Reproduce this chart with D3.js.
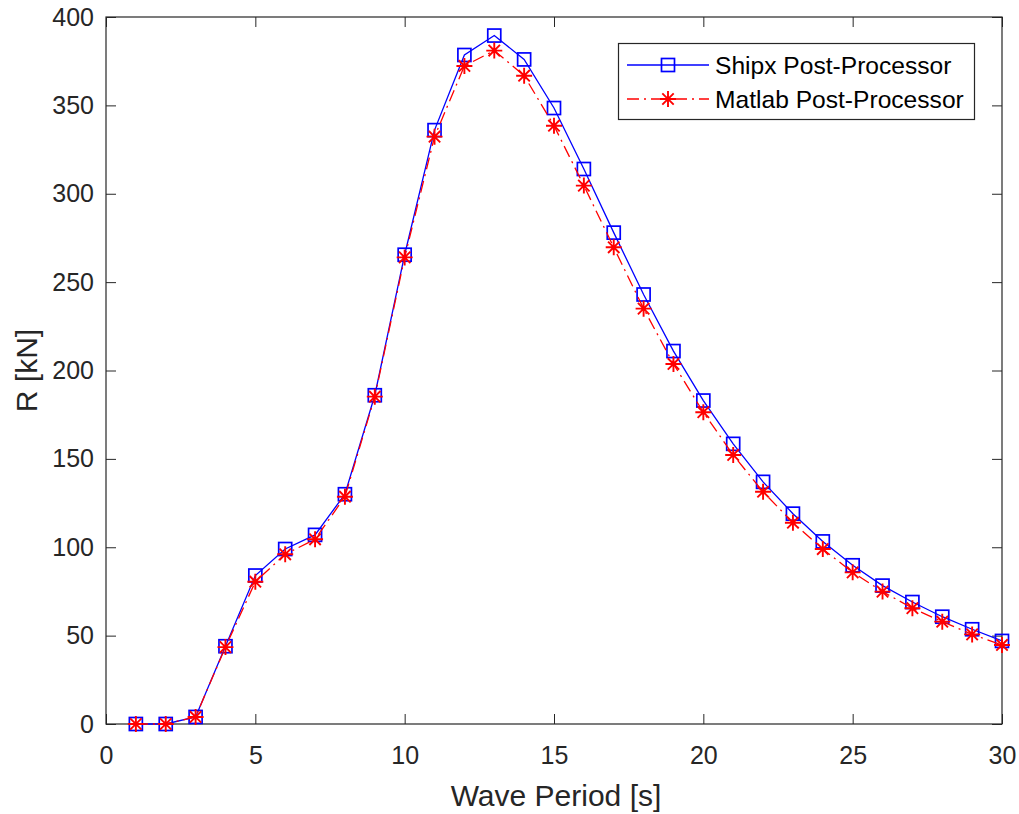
<!DOCTYPE html>
<html><head><meta charset="utf-8">
<script src="https://cdn.jsdelivr.net/npm/d3@7"></script>
<style>body{margin:0;background:#fff}svg{display:block;font-family:"Liberation Sans",Arial,sans-serif}</style>
</head><body><svg id="c" width="1019" height="814"></svg>
<script>
const periods = [1,2,3,4,5,6,7,8,9,10,11,12,13,14,15,16,17,18,19,20,21,22,23,24,25,26,27,28,29,30];
const shipx = [0,0,4,44,84,99,107,130,186,265.5,336,378.5,389.5,376,348.5,314,278,243,211,183,158.5,137,119,103.3,89.8,78.3,69,60.7,53.6,47];
const matlab = [0,0,4,43.5,80.5,96,104.5,128.6,185.2,264,332.3,372.3,381,366.8,338.5,304.6,269.7,235,203.7,176.4,152.2,131.4,113.9,99,85.8,74.9,65.5,57.9,50.7,44.7];
const xTicks = [0,5,10,15,20,25,30];
const yTicks = [0,50,100,150,200,250,300,350,400];
const seriesNames = ["Shipx Post-Processor","Matlab Post-Processor"];

const svg = d3.select("#c");
const L=106, R=1002, T=17, B=724;
const x = d3.scaleLinear().domain([0,30]).range([L,R]);
const y = d3.scaleLinear().domain([0,400]).range([B,T]);
const axisCol = "#262626";
const tickLen = 10;

// axes
const gx = svg.append("g").attr("transform",`translate(0,${B})`)
  .call(d3.axisBottom(x).tickValues(xTicks).tickSize(-tickLen).tickPadding(22).tickFormat(d3.format("d")));
const gy = svg.append("g").attr("transform",`translate(${L},0)`)
  .call(d3.axisLeft(y).tickValues(yTicks).tickSize(-tickLen).tickPadding(12).tickFormat(d3.format("d")));
const gxt = svg.append("g").attr("transform",`translate(0,${T})`)
  .call(d3.axisTop(x).tickValues(xTicks).tickSize(-tickLen).tickFormat(""));
const gyr = svg.append("g").attr("transform",`translate(${R},0)`)
  .call(d3.axisRight(y).tickValues(yTicks).tickSize(-tickLen).tickFormat(""));
[gx,gy,gxt,gyr].forEach(g=>{
  g.selectAll(".tick line").attr("stroke",axisCol).attr("stroke-width",1);
  g.selectAll(".tick text").attr("fill",axisCol).attr("font-size",25).attr("font-family","Liberation Sans, Arial, sans-serif");
  g.select(".domain").remove();
});
svg.append("rect").attr("x",L).attr("y",T).attr("width",R-L).attr("height",B-T)
  .attr("fill","none").attr("stroke",axisCol).attr("stroke-width",1.2);
gx.selectAll(".tick text").attr("dy","0.71em").attr("y",22);

// labels
svg.append("text").attr("x",(L+R)/2+2).attr("y",806).attr("text-anchor","middle")
  .attr("font-size",30).attr("fill",axisCol).text("Wave Period [s]");
svg.append("text").attr("transform",`translate(37,${(T+B)/2}) rotate(-90)`).attr("text-anchor","middle")
  .attr("font-size",30).attr("fill",axisCol).text("R [kN]");

// series
const line = d3.line().x(d=>x(d[0])).y(d=>y(d[1]));
const blueData = periods.map((p,i)=>[p,shipx[i]]);
const redData = periods.map((p,i)=>[p,matlab[i]]);
const blue="#0000ff", red="#ff0000";
const dash = "12,5,2,5";

function square(g,cx,cy){
  g.append("rect").attr("x",cx-6.5).attr("y",cy-6.5).attr("width",13).attr("height",13)
   .attr("fill","none").attr("stroke",blue).attr("stroke-width",1.7);
}
function asterisk(g,cx,cy){
  const r=8, d=5.7;
  const p = `M${cx-r},${cy}L${cx+r},${cy}M${cx},${cy-r}L${cx},${cy+r}M${cx-d},${cy-d}L${cx+d},${cy+d}M${cx-d},${cy+d}L${cx+d},${cy-d}`;
  g.append("path").attr("d",p).attr("stroke",red).attr("stroke-width",1.9).attr("fill","none");
}

svg.append("path").datum(blueData).attr("d",line).attr("fill","none").attr("stroke",blue).attr("stroke-width",1.3);
const gb = svg.append("g");
blueData.forEach(d=>square(gb,x(d[0]),y(d[1])));
svg.append("path").datum(redData).attr("d",line).attr("fill","none").attr("stroke",red).attr("stroke-width",1.3).attr("stroke-dasharray",dash);
const gr = svg.append("g");
redData.forEach(d=>asterisk(gr,x(d[0]),y(d[1])));

// legend
const lg = svg.append("g");
lg.append("rect").attr("x",618.5).attr("y",43.5).attr("width",356).attr("height",76)
  .attr("fill","#fff").attr("stroke",axisCol).attr("stroke-width",1.2);
const rows=[65,99];
lg.append("line").attr("x1",627).attr("x2",709).attr("y1",rows[0]).attr("y2",rows[0]).attr("stroke",blue).attr("stroke-width",1.3);
square(lg,668,rows[0]);
lg.append("line").attr("x1",627).attr("x2",709).attr("y1",rows[1]).attr("y2",rows[1]).attr("stroke",red).attr("stroke-width",1.3).attr("stroke-dasharray",dash);
asterisk(lg,668,rows[1]);
seriesNames.forEach((n,i)=>{
  lg.append("text").attr("x",715).attr("y",rows[i]).attr("dy","0.35em").attr("font-size",24.6).attr("fill","#000").text(n);
});
</script></body></html>
